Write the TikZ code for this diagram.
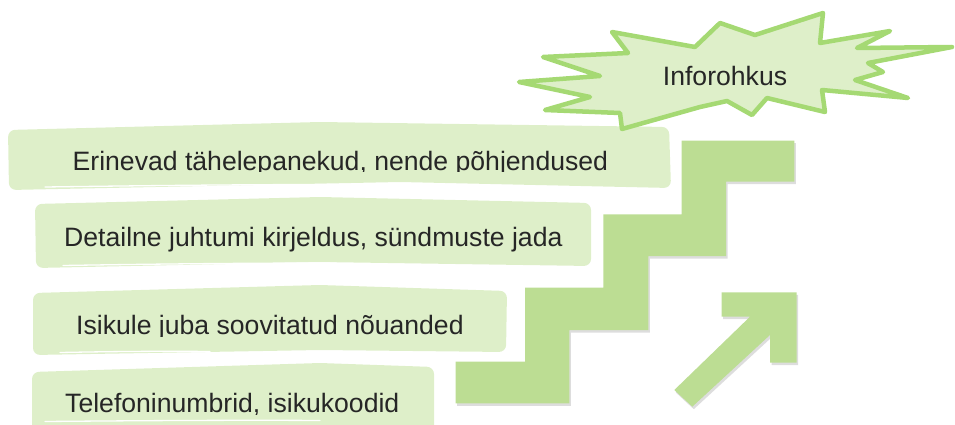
\documentclass[tikz,border=0pt]{standalone}
\usepackage{fontspec}
\setmainfont{Liberation Sans}
\usetikzlibrary{shadows}
\definecolor{boxfill}{RGB}{222,239,201}
\definecolor{stairfill}{RGB}{188,221,147}
\definecolor{burstline}{RGB}{165,217,115}
\definecolor{txt}{RGB}{38,38,38}
\begin{document}
\begin{tikzpicture}[x=1pt,y=-1pt,
  brush/.style={fill=boxfill, draw=none},
  streak/.style={draw=white, line width=1.3pt, line cap=round},
  lbl/.style={anchor=base west, inner sep=0pt, text=txt, font=\fontsize{26.6}{30}\selectfont},
  stairshape/.style={fill=stairfill, draw=none, drop shadow={shadow xshift=1.5pt, shadow yshift=-2.5pt, opacity=0.22, fill=black!60}},
  burst/.style={fill=boxfill, draw=burstline, line width=4.5pt, line join=round},
]
\useasboundingbox (0,0) rectangle (955,425);

% boxes
\path[brush, rounded corners=7pt] (8,130) -- (320,122) -- (669,127) -- (671,188) -- (400,182) -- (9,190) -- cycle;
\draw[streak] (45,187) .. controls (150,185.5) and (250,184.5) .. (330,184.5);
\path[brush, rounded corners=7pt] (35,204) -- (320,197) -- (591,203) -- (591,266) -- (320,262) -- (36,268) -- cycle;
\draw[streak] (63,265.5) .. controls (150,264) and (250,263) .. (330,263);
\path[brush, rounded corners=7pt] (33,293) -- (320,285) -- (507,291) -- (506,352) -- (320,350) -- (33,355) -- cycle;
\draw[streak] (60,352.5) .. controls (110,351.5) and (160,351) .. (210,351.5);
\path[brush, rounded corners=7pt] (32,372) -- (320,363) -- (434,367) -- (434,440) -- (32,440) -- cycle;
\draw[streak] (45,421.5) .. controls (150,420.5) and (250,420) .. (320,420.5);

\begin{scope}
\clip (0,0) rectangle (955,171.5);
\node[lbl] (t1) at (72.5,170) {Erinevad tähelepanekud, nende põhjendused};
\end{scope}
\node[lbl] (t2) at (64,246.7) {Detailne juhtumi kirjeldus, sündmuste jada};
\begin{scope}
\clip (0,0) rectangle (955,336.5);
\node[lbl] (t3) at (76,334.3) {Isikule juba soovitatud nõuanded};
\end{scope}
\begin{scope}
\clip (0,0) rectangle (955,414);
\node[lbl] (t4) at (65,412.3) {Telefoninumbrid, isikukoodid};
\end{scope}

% stairs
\path[stairshape] (455.7,403.3) -- (455.7,361.7) -- (525,361.7) -- (525,287.7) -- (603.3,287.7) -- (603.3,214.3) -- (681.7,214.3) -- (681.7,140.7) -- (794.3,140.7) -- (794.3,181.7) -- (726,181.7) -- (726,256) -- (648.3,256) -- (648.3,330) -- (569.3,330) -- (569.3,403.3) -- cycle;

% arrow
\path[stairshape] (721.7,292.3) -- (796.7,292.3) -- (796.7,362.7) -- (770,362.7) -- (770,335) -- (692.3,406.7) -- (674.3,390) -- (750,316.7) -- (721.7,316.7) -- cycle;

% starburst
\path[burst] (519,82) -- (600,76) -- (543,57) -- (628,53) -- (612,32) -- (695,47) -- (720,23) -- (755,35) -- (823,13) -- (820,43) -- (890,31) -- (857,48) -- (952,47) -- (868,63) -- (883,72) -- (855,80) -- (908,98) -- (822,90) -- (825,112) -- (767,98) -- (752,115) -- (727,101) -- (700,107) -- (622,129) -- (620,113) -- (545,110) -- (590,97) -- cycle;
\node[text=txt, font=\fontsize{26.6}{30}\selectfont, inner sep=0pt] (burstlabel) at (725,76) {Inforohkus};
\end{tikzpicture}
\end{document}
